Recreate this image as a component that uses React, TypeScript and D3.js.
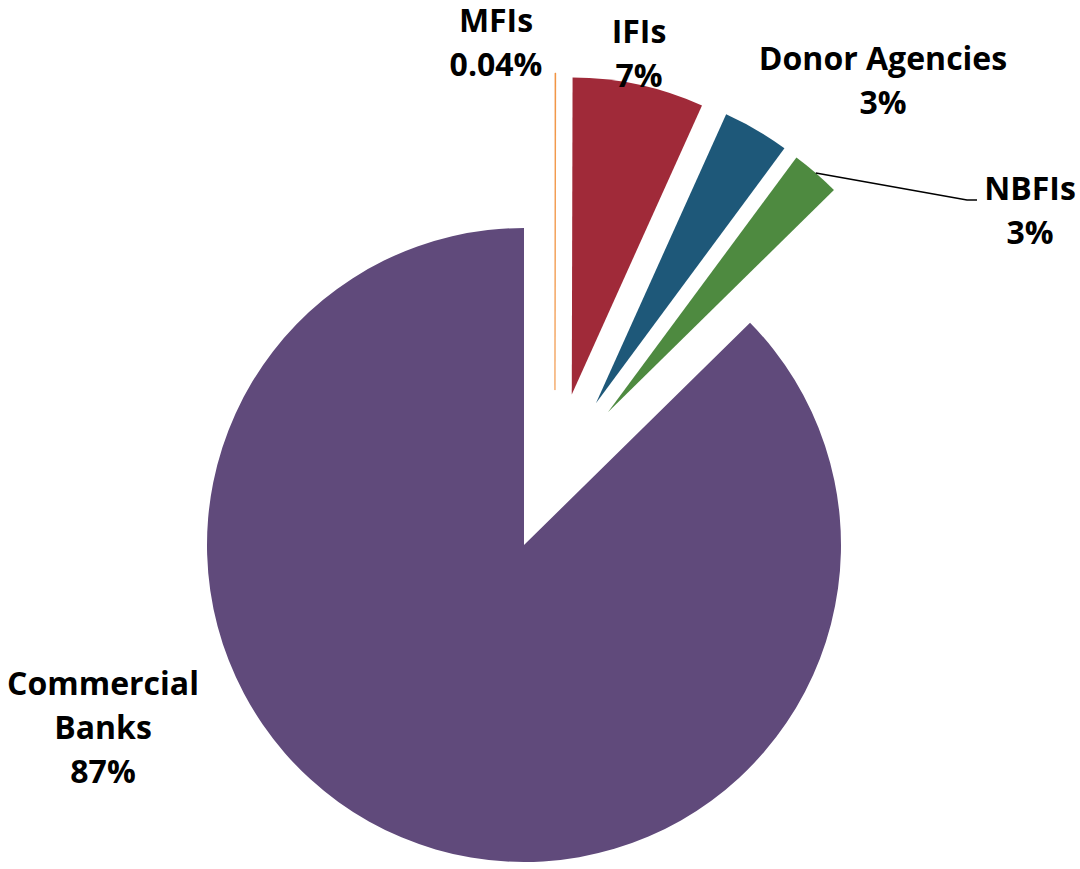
import React from "react";
import * as d3 from "d3";

// ---- data ----
const categories = ["MFIs", "IFIs", "Donor Agencies", "NBFIs", "Commercial Banks"];
const shares = [0.04, 6.7, 3.4, 2.5, 87.4];
const colors = ["#F08A30", "#A02A39", "#1E5879", "#4E8A40", "#604A7B"];

// ---- layout / style ----
const W = 1080;
const H = 869;
const CX = 524;
const CY = 545;
const R = 317;
// explosion of each slice: distance (px) and direction (degrees clockwise from 12 o'clock)
const explodeDist = [158, 158, 159, 157, 0];
const explodeDir = [11.3, 17.6, 26.9, 32.3, 0];
// label anchor (centre x, first baseline y)
const labelAnchor: [number, number][] = [
  [496, 32],
  [639, 43],
  [883, 70],
  [1030, 200],
  [103, 695],
];
const labelLines = [
  ["MFIs"],
  ["IFIs"],
  ["Donor Agencies"],
  ["NBFIs"],
  ["Commercial", "Banks"],
];
const LINE_H = 44;
const FONT = "'Open Sans', 'Noto Sans', sans-serif";
const FONT_SIZE = 32;

function fmt(v: number) {
  return v < 1 ? `${v.toFixed(2)}%` : `${Math.round(v)}%`;
}

export default function App() {
  const pie = d3
    .pie<number>()
    .sort(null)
    .startAngle(0)
    .endAngle(2 * Math.PI)
    .value((d) => d);
  const arcs = pie(shares);
  const arc = d3.arc<d3.PieArcDatum<number>>().innerRadius(0).outerRadius(R);

  // NBFI leader line: from slice outer edge to label
  const nb = arcs[3];
  const nbOff = [
    explodeDist[3] * Math.sin((explodeDir[3] * Math.PI) / 180),
    -explodeDist[3] * Math.cos((explodeDir[3] * Math.PI) / 180),
  ];
  const nbMid = (nb.startAngle + nb.endAngle) / 2;
  const lr = R;
  const p0: [number, number] = [
    CX + nbOff[0] + lr * Math.sin(nbMid),
    CY + nbOff[1] - lr * Math.cos(nbMid),
  ];
  const labNb = labelAnchor[3];
  const p1: [number, number] = [labNb[0] - 63, labNb[1]];
  const p2: [number, number] = [labNb[0] - 53, labNb[1]];
  const leader = d3.line()([p0, p1, p2]);

  return (
    <svg
      width={W}
      height={H}
      style={{ position: "absolute", left: 0, top: 0, background: "#fff" }}
    >
      <g>
        {arcs.map((a, i) => {
          const ang = (explodeDir[i] * Math.PI) / 180;
          const dx = explodeDist[i] * Math.sin(ang);
          const dy = -explodeDist[i] * Math.cos(ang);
          return (
            <path
              key={categories[i]}
              d={arc(a) || ""}
              fill={colors[i]}
              stroke={i === 0 ? colors[i] : "none"}
              strokeWidth={i === 0 ? 0.6 : 0}
              transform={`translate(${CX + dx},${CY + dy})`}
            />
          );
        })}
      </g>
      <path d={leader || ""} fill="none" stroke="#000" strokeWidth={1.6} />
      <g fontFamily={FONT} fontWeight={700} fontSize={FONT_SIZE} fill="#000" textAnchor="middle">
        {categories.map((c, i) => {
          const [x, y] = labelAnchor[i];
          const lines = [...labelLines[i], fmt(shares[i])];
          return (
            <text key={c} x={x} y={y}>
              {lines.map((t, j) => (
                <tspan key={j} x={x} dy={j === 0 ? 0 : LINE_H}>
                  {t}
                </tspan>
              ))}
            </text>
          );
        })}
      </g>
    </svg>
  );
}
